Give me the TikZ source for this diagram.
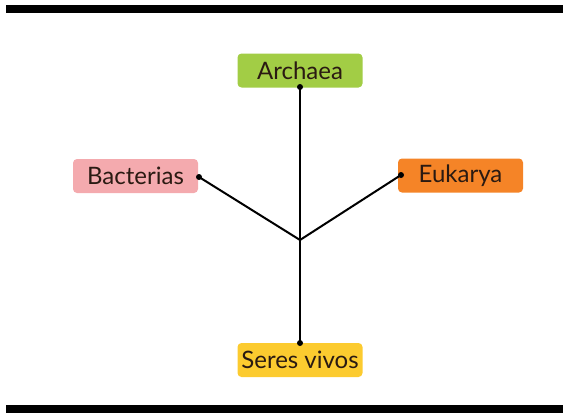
\documentclass[tikz,border=0pt]{standalone}
\usepackage{fontspec}
\setmainfont{Lato}
\definecolor{verde}{HTML}{A2CD45}
\definecolor{rosa}{HTML}{F4AAAE}
\definecolor{naranja}{HTML}{F58427}
\definecolor{amarillo}{HTML}{FCCB2F}
\definecolor{texto}{HTML}{2A1A12}
\tikzset{
  caja/.style={rounded corners=4pt, minimum width=125pt, minimum height=34pt,
    inner sep=0pt, font=\fontsize{24}{24}\selectfont, text=texto},
  punto/.style={circle, fill=black, inner sep=0pt, minimum size=6pt}
}
\begin{document}
\begin{tikzpicture}[x=1pt,y=-1pt]
      \useasboundingbox (0,0) rectangle (563,415);
      \fill (6,5) rectangle (563,13);
      \fill (6,405) rectangle (563,413);
      \draw
        (300,70.5) node[caja, fill=verde] (archaea){Archaea}
        (135.5,176) node[caja, fill=rosa] (bacterias){Bacterias}
        (460.5,175.5) node[caja, fill=naranja] (eukarya){Eukarya}
        (300,360) node[caja, fill=amarillo] (seres){Seres vivos};
      \coordinate (raiz) at (300,240);
      \node[punto] (pa) at (300,87) {};
      \node[punto] (pb) at (199,177) {};
      \node[punto] (pe) at (401,175) {};
      \node[punto] (ps) at (300,343) {};
      \begin{scope}[line width=2pt]
        \draw (pa.center) to (ps.center);
        \draw (pb.center) to (raiz);
        \draw (pe.center) to (raiz);
      \end{scope}
    \end{tikzpicture}
\end{document}
